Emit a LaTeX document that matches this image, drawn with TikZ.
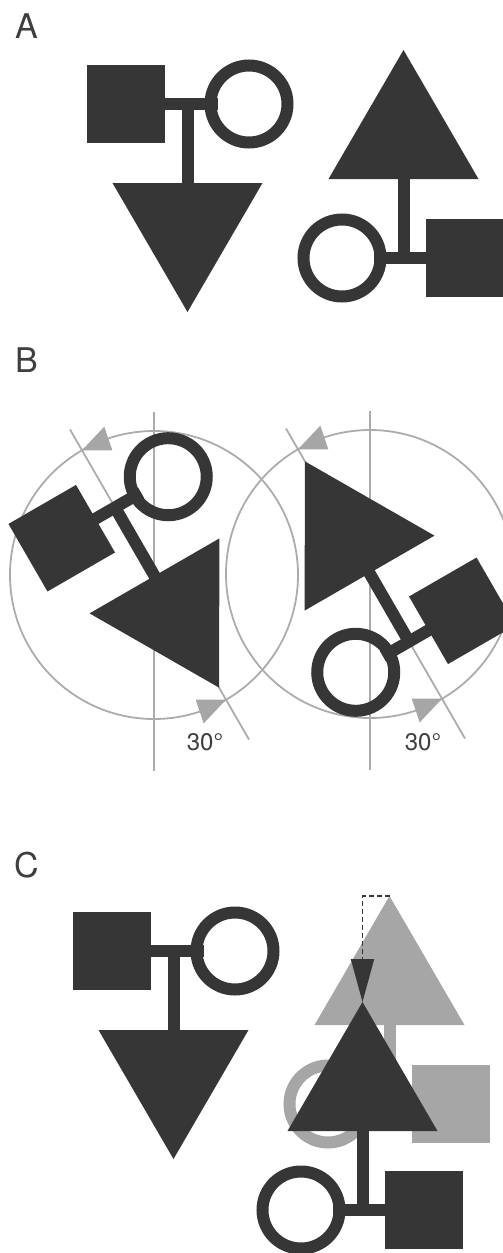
\documentclass[tikz,border=0pt]{standalone}
\usepackage{fontspec}
\setmainfont{TeX Gyre Heros}
\usetikzlibrary{arrows.meta,calc}
\definecolor{mDark}{RGB}{54,54,54}
\definecolor{mGrey}{RGB}{166,166,166}
\definecolor{mLine}{RGB}{172,172,172}
\definecolor{mText}{RGB}{62,62,62}
% one unit: square and ring joined by a bar, stem down to a triangle
\tikzset{
  pics/pedunit/.style={code={
    \fill[#1] (-100.5,39) rectangle (-22.5,117);
    \draw[#1, line width=12pt] (-23,78) -- (30,78);
    \draw[#1, line width=12pt] (0,78) -- (0,-2);
    \draw[#1, line width=12pt] (61.5,78) circle (38.5);
    \fill[#1] (-75,-1) -- (75,-1) -- (0,-130) -- cycle;
  }}
}

\begin{document}
\begin{tikzpicture}[x=1pt, y=1pt,
    panel/.style={anchor=north west, inner sep=0pt, text=mText, font=\fontsize{34}{36}\selectfont},
    angle/.style={inner sep=0pt, text=mText, font=\fontsize{24}{26}\selectfont}]
    \useasboundingbox (0,0) rectangle (503,-1253);
    % A: the unit, and the same unit turned half round
    \node[panel] (labA) at (15,-14) {A};
    \pic at (187.5,-182) {pedunit=mDark};
    \pic[rotate=180] at (403.5,-180) {pedunit=mDark};
    % B: both units turned by 30 degrees about their centres
    \node[panel] (labB) at (15,-348) {B};
    \coordinate (cL) at (154,-575);
    \coordinate (cR) at (370,-574);
    \foreach \c in {cL,cR} {
      \draw[mLine, line width=1.8pt] (\c) circle (144);
      \draw[mLine, line width=1.8pt] ($(\c)+(0,163)$) -- ($(\c)+(0,-196)$);
      \draw[mLine, line width=1.8pt] ($(\c)+(120:168)$) -- ($(\c)+(300:190)$);
      % arrowheads sitting on the circle, tips on the tilted line
      \fill[mGrey] ($(\c)+(120:144)$) -- ($(\c)+(108.5:131.5)$) -- ($(\c)+(108.5:156.5)$) -- cycle;
      \fill[mGrey] ($(\c)+(300:144)$) -- ($(\c)+(288.5:131.5)$) -- ($(\c)+(288.5:156.5)$) -- cycle;
    }
    \pic[rotate=30] at (cL) {pedunit=mDark};
    \pic[rotate=210] at (cR) {pedunit=mDark};
    \node[angle] (degL) at (205,-742) {30°};
    \node[angle] (degR) at (423,-742) {30°};
    % C: grey unit is where it was, dark one moved down to it
    \node[panel] (labC) at (14,-852) {C};
    \pic at (173.5,-1029) {pedunit=mDark};
    \pic[rotate=180] at (389.5,-1026) {pedunit=mGrey};
    \pic[rotate=180] at (362.5,-1132) {pedunit=mDark};
    \coordinate (gApex) at (389.5,-896);
    \coordinate (dApex) at (362.5,-1002);
    \draw[mDark, line width=1.7pt, dash pattern=on 5pt off 3pt,
      -{Triangle[length=43pt,width=23pt]}] (gApex) -| (dApex);
\end{tikzpicture}
\end{document}
